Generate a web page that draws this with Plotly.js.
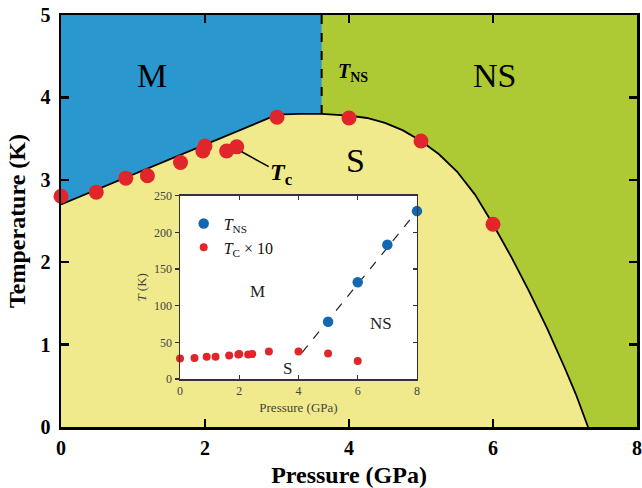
<!DOCTYPE html>
<html>
<head>
<meta charset="utf-8">
<script src="https://cdn.plot.ly/plotly-3.0.1.min.js"></script>
<style>
  html, body { margin: 0; padding: 0; background: #fff; }
  #chart { width: 642px; height: 488px; }
</style>
</head>
<body>
<div id="chart"></div>
<script>
// ---- Phase diagram data ----
// Superconducting dome boundary T_c(P), GPa / K
const domeP = [0, 3.0, 3.3, 3.62, 4.0, 4.25, 4.5, 4.75, 5.0, 5.25, 5.5, 5.75, 6.0, 6.25, 6.5, 6.75, 7.0, 7.15, 7.32];
const domeT = [2.70, 3.79, 3.80, 3.80, 3.78, 3.75, 3.69, 3.60, 3.47, 3.31, 3.10, 2.82, 2.46, 2.07, 1.65, 1.20, 0.71, 0.40, 0.0];

// Pressure of the M -> NS transition line (dashed)
const tnsPressure = 3.62;

// Measured T_c points
const tcP = [0, 0.49, 0.90, 1.20, 1.66, 1.97, 2.00, 2.30, 2.44, 3.0, 4.0, 5.0, 6.0];
const tcT = [2.80, 2.85, 3.02, 3.05, 3.21, 3.35, 3.41, 3.35, 3.40, 3.76, 3.75, 3.47, 2.46];

// Inset: T_NS (K) versus pressure
const tnsP = [5, 6, 7, 8];
const tnsT = [78, 132, 183, 229];
// Guide line through T_NS
const guideP = [4.12, 8.0];
const guideT = [36, 229];

// Axis ranges and ticks
const mainPRange = [0, 8];
const mainTRange = [0, 5];
const insetPRange = [0, 8];
const insetTRange = [0, 250];
const mainPTicks = [0, 2, 4, 6, 8];
const mainTTicks = [0, 1, 2, 3, 4, 5];
const insetPTicks = [0, 2, 4, 6, 8];
const insetTTicks = [0, 50, 100, 150, 200, 250];

// ---- Colours ----
const colM = '#2a97cf';
const colNS = '#adca35';
const colS = '#f1ea8c';
const colRed = '#e0262a';
const colBlue = '#1468b2';
const serif = 'Liberation Serif, Times New Roman, serif';

// M region: above the rising part of the dome, left of the dashed line
const mP = [], mT = [];
domeP.forEach((p, i) => { if (p <= tnsPressure) { mP.push(p); mT.push(domeT[i]); } });
mP.push(tnsPressure, 0);
mT.push(mainTRange[1], mainTRange[1]);

const tcInset = tcT.map(v => +(v * 10).toFixed(1));

const traces = [
  { x: mP, y: mT, type: 'scatter', mode: 'lines', fill: 'toself', fillcolor: colM,
    line: { width: 0 }, hoverinfo: 'skip', showlegend: false },
  { x: domeP, y: domeT, type: 'scatter', mode: 'lines', fill: 'tozeroy', fillcolor: colS,
    line: { color: '#000', width: 1.8 }, showlegend: false },
  { x: [tnsPressure, tnsPressure], y: [domeT[domeP.indexOf(tnsPressure)], mainTRange[1]],
    type: 'scatter', mode: 'lines', line: { color: '#000', width: 2, dash: 'dash' }, showlegend: false },
  { x: tcP, y: tcT, type: 'scatter', mode: 'markers', cliponaxis: false,
    marker: { color: colRed, size: 15 }, showlegend: false },

  // inset
  { x: guideP, y: guideT, xaxis: 'x2', yaxis: 'y2', type: 'scatter', mode: 'lines',
    line: { color: '#222', width: 1.2, dash: 'dash' }, showlegend: false },
  { x: tnsP, y: tnsT, xaxis: 'x2', yaxis: 'y2', type: 'scatter', mode: 'markers', cliponaxis: false,
    name: '<i>T</i><sub>NS</sub>', marker: { color: colBlue, size: 10.5 } },
  { x: tcP, y: tcInset, xaxis: 'x2', yaxis: 'y2', type: 'scatter', mode: 'markers', cliponaxis: false,
    name: '<i>T</i><sub>C</sub> × 10', marker: { color: colRed, size: 8 } },
  { x: [], y: [], xaxis: 'x2', yaxis: 'y3', type: 'scatter', mode: 'markers', showlegend: false }
];

const mainAxis = {
  showline: true, linecolor: '#000', linewidth: 2.5, mirror: 'ticks',
  ticks: 'inside', ticklen: 8, tickwidth: 2.5, tickcolor: '#000',
  showgrid: false, zeroline: false,
  tickfont: { family: serif, size: 20, color: '#000', weight: 'bold' }
};

const layout = {
  width: 642, height: 488,
  margin: { l: 61, r: 5, t: 15, b: 61 },
  paper_bgcolor: '#fff',
  plot_bgcolor: colNS,
  font: { family: serif, color: '#000' },
  xaxis: Object.assign({}, mainAxis, {
    range: mainPRange, tickvals: mainPTicks, ticklabelstandoff: 1,
    title: { text: 'Pressure (GPa)', standoff: 17, font: { family: serif, size: 24, weight: 'bold' } }
  }),
  yaxis: Object.assign({}, mainAxis, {
    range: mainTRange, tickvals: mainTTicks, ticklabelstandoff: 4,
    title: { text: 'Temperature (K)', standoff: 8, font: { family: serif, size: 24, weight: 'bold' } }
  }),
  xaxis2: {
    domain: [0.2066, 0.618], anchor: 'y2', range: insetPRange, tickvals: insetPTicks,
    showline: true, linecolor: '#333', linewidth: 1.5, mirror: 'ticks',
    ticks: 'inside', ticklen: 4, tickwidth: 1.2, tickcolor: '#333',
    showgrid: false, zeroline: false,
    tickfont: { family: serif, size: 12, color: '#444' },
    title: { text: 'Pressure (GPa)', standoff: 6, font: { family: serif, size: 13, color: '#444' } }
  },
  yaxis2: {
    domain: [0.1165, 0.5614], anchor: 'x2', range: insetTRange, tickvals: insetTTicks,
    showline: true, linecolor: '#333', linewidth: 1.5, mirror: true,
    ticks: 'outside', ticklen: 4, tickwidth: 1.2, tickcolor: '#333',
    showgrid: false, zeroline: false,
    tickfont: { family: serif, size: 12, color: '#444' },
    title: { text: '<i>T</i> (K)', standoff: 4, font: { family: serif, size: 13, color: '#444' } }
  },
  yaxis3: {
    overlaying: 'y2', side: 'right', anchor: 'x2', range: insetTRange, tickvals: insetTTicks,
    showline: false, ticks: 'inside', ticklen: 4, tickwidth: 1.2, tickcolor: '#333',
    showticklabels: false, showgrid: false, zeroline: false
  },
  shapes: [
    { type: 'rect', xref: 'x2', yref: 'y2', layer: 'below',
      x0: insetPRange[0], x1: insetPRange[1], y0: insetTRange[0], y1: insetTRange[1],
      fillcolor: '#fff', line: { width: 0 } }
  ],
  legend: {
    x: 0.213, y: 0.535, xanchor: 'left', yanchor: 'top',
    bgcolor: 'rgba(0,0,0,0)', borderwidth: 0, itemwidth: 30,
    font: { family: serif, size: 16, color: '#111' }, tracegroupgap: 0
  },
  annotations: [
    { x: 1.26, y: 4.27, text: 'M', showarrow: false, font: { family: serif, size: 34 } },
    { x: 6.02, y: 4.27, text: 'NS', showarrow: false, font: { family: serif, size: 34 } },
    { x: 4.09, y: 3.24, text: 'S', showarrow: false, font: { family: serif, size: 34 } },
    { x: 4.05, y: 4.30, text: '<b><i>T</i><sub>NS</sub></b>', showarrow: false, font: { family: serif, size: 20 } },
    { x: 2.51, y: 3.34, ax: 40, ay: 22, text: '<b><i>T</i><sub>c</sub></b>', showarrow: true,
      arrowhead: 0, arrowwidth: 1.5, arrowcolor: '#000', font: { family: serif, size: 24 } },
    { xref: 'x2', yref: 'y2', x: 2.6, y: 119, text: 'M', showarrow: false, font: { family: serif, size: 17, color: '#222' } },
    { xref: 'x2', yref: 'y2', x: 3.62, y: 15, text: 'S', showarrow: false, font: { family: serif, size: 17, color: '#222' } },
    { xref: 'x2', yref: 'y2', x: 6.8, y: 76, text: 'NS', showarrow: false, font: { family: serif, size: 17, color: '#222' } }
  ]
};

Plotly.newPlot('chart', traces, layout, { displayModeBar: false, staticPlot: true });
</script>
</body>
</html>
